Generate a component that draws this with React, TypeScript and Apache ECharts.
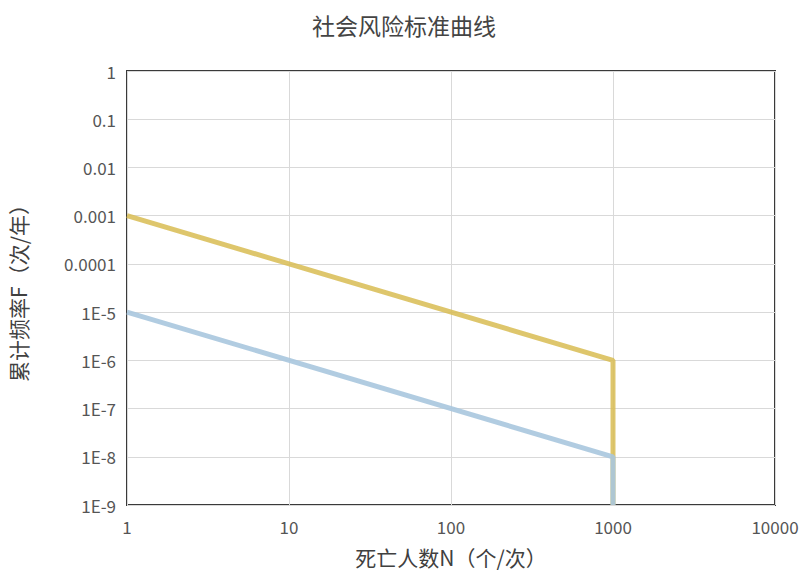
import React, { useEffect, useRef } from "react";
import * as echarts from "echarts";

const titleText = "社会风险标准曲线";
const xName = "死亡人数N（个/次）";
const yName = "累计频率F（次/年）";
const upperLine: [number, number][] = [
  [1, 1e-3],
  [1000, 1e-6],
  [1000, 1e-9],
];
const lowerLine: [number, number][] = [
  [1, 1e-5],
  [1000, 1e-8],
  [1000, 1e-9],
];

function fmtY(v: number): string {
  const e = Math.round(Math.log10(v));
  if (e >= -4) {
    if (e >= 0) return String(Math.pow(10, e));
    return "0." + "0".repeat(-e - 1) + "1";
  }
  return "1E" + e;
}

function fmtX(v: number): string {
  return String(Math.round(v));
}

export default function App() {
  const ref = useRef<HTMLDivElement>(null);
  useEffect(() => {
    if (!ref.current) return;
    const chart = echarts.init(ref.current, undefined, { renderer: "svg" });
    const font = "'Noto Sans CJK SC', 'Noto Sans', sans-serif";
    chart.setOption({
      animation: false,
      backgroundColor: "#fff",
      title: {
        text: titleText,
        left: "center",
        top: 8,
        textStyle: { fontSize: 23, fontWeight: "normal", color: "#444", fontFamily: font },
      },
      grid: {
        left: 127,
        right: 33,
        top: 71,
        bottom: 67,
        show: true,
        borderColor: "#3a3a3a",
        borderWidth: 2,
        backgroundColor: "transparent",
        outerBoundsMode: "none",
        containLabel: false,
      },
      xAxis: {
        type: "log",
        logBase: 10,
        min: 1,
        max: 10000,
        name: xName,
        nameLocation: "middle",
        nameGap: 41,
        nameTextStyle: { fontSize: 21, color: "#404040", fontFamily: font },
        axisLine: { show: false },
        axisTick: { show: false },
        axisLabel: { fontSize: 17, color: "#555", margin: 13, fontFamily: font, formatter: (v: number) => fmtX(v) },
        splitLine: { show: true, lineStyle: { color: "#d9d9d9", width: 1 } },
        minorSplitLine: { show: false },
      },
      yAxis: {
        type: "log",
        logBase: 10,
        min: 1e-9,
        max: 1,
        name: yName,
        nameLocation: "middle",
        nameRotate: 90,
        nameGap: 99,
        nameTextStyle: { fontSize: 21, color: "#404040", fontFamily: font },
        axisLine: { show: false },
        axisTick: { show: false },
        axisLabel: { fontSize: 17, color: "#555", margin: 11, fontFamily: font, formatter: (v: number) => fmtY(v) },
        splitLine: { show: true, lineStyle: { color: "#d9d9d9", width: 1 } },
      },
      series: [
        {
          type: "line",
          data: upperLine,
          symbol: "none",
          lineStyle: { color: "#d8bc52", width: 5, opacity: 0.85 },
          z: 2,
        },
        {
          type: "line",
          data: lowerLine,
          symbol: "none",
          lineStyle: { color: "#a9c6de", width: 5, opacity: 0.9 },
          z: 3,
        },
      ],
    });
    return () => chart.dispose();
  }, []);
  return (
    <div
      ref={ref}
      style={{ position: "fixed", left: 0, top: 0, width: 808, height: 572 }}
    />
  );
}
